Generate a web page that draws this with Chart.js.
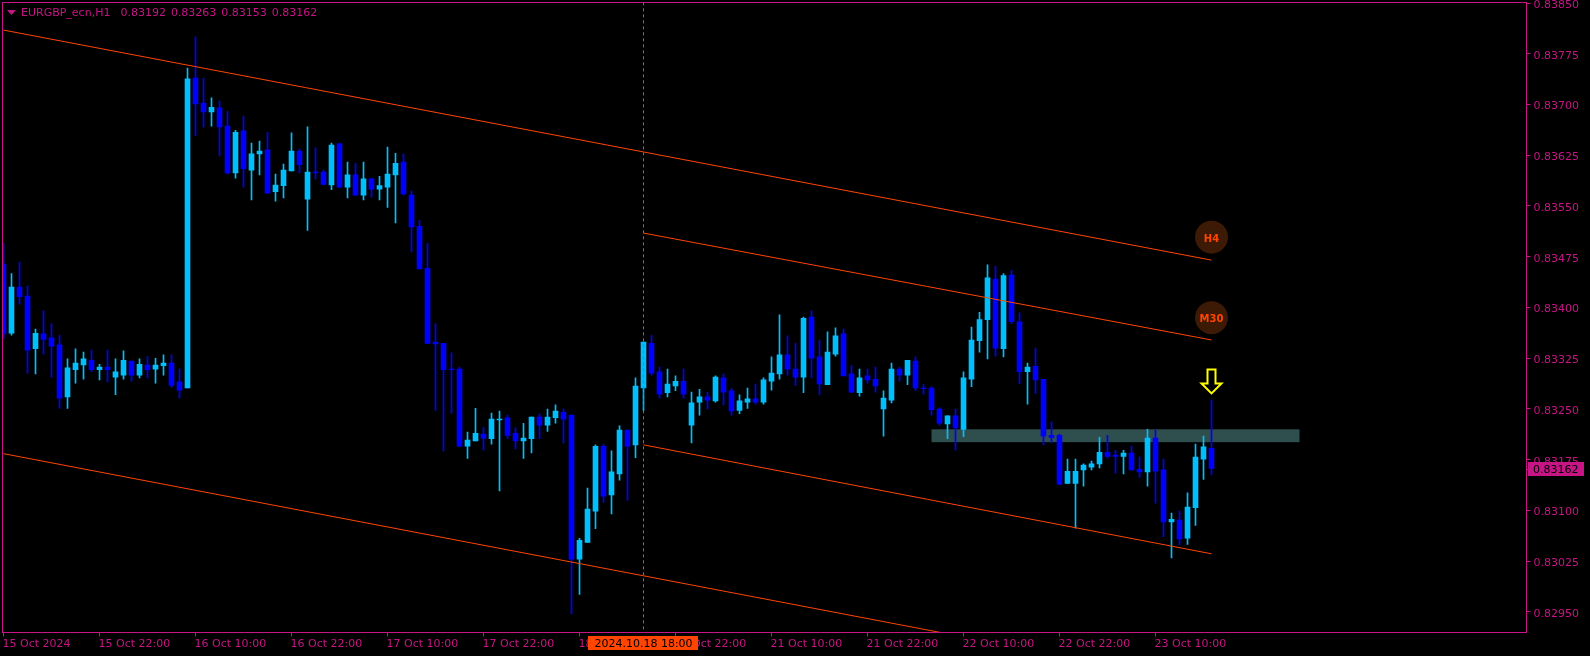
<!DOCTYPE html>
<html>
<head>
<meta charset="utf-8">
<title>EURGBP_ecn,H1</title>
<script src="https://cdn.jsdelivr.net/npm/chart.js@4/dist/chart.umd.min.js"></script>
<style>
html, body { margin: 0; padding: 0; background: #000; overflow: hidden; }
canvas { display: block; }
</style>
</head>
<body>
<canvas id="chart" width="1590" height="656"></canvas>
<script>
// candles, one per hour, price x 100000
var opens = [
83464,83362,83430,83417,83339,83361,83355,83345,83268,83308,83315,83322,
83308,83312,83297,83300,83321,83300,83315,83309,83314,83318,83290,83281,
83739,83702,83689,83695,83668,83599,83661,83603,83627,83633,83571,83580,
83602,83631,83560,83600,83600,83581,83642,83578,83596,83566,83590,83575,
83578,83596,83615,83566,83520,83458,83349,83347,83309,83309,83195,83203,
83213,83206,83234,83237,83214,83203,83206,83238,83226,83237,83245,83241,
83028,83053,83099,83195,83123,83154,83219,83197,83281,83347,83305,83274,
83284,83291,83226,83260,83268,83262,83296,83277,83248,83260,83265,83260,
83291,83302,83330,83309,83297,83386,83327,83286,83331,83361,83302,83274,
83299,83294,83250,83263,83309,83300,83321,83281,83281,83250,83228,83240,
83220,83294,83351,83382,83442,83339,83448,83379,83305,83313,83294,83211,
83211,83140,83140,83160,83164,83169,83186,83182,83180,83185,83161,83157,
83207,83160,83083,83086,83059,83104,83176,83192];
var highs = [
83495,83450,83467,83432,83368,83395,83376,83359,83324,83339,83334,83337,
83316,83337,83324,83336,83321,83324,83328,83325,83330,83330,83309,83754,
83800,83739,83710,83705,83690,83662,83683,83643,83646,83659,83597,83612,
83658,83634,83667,83636,83603,83643,83643,83615,83613,83615,83591,83594,
83637,83628,83627,83572,83529,83495,83376,83347,83333,83312,83216,83251,
83223,83244,83247,83241,83222,83229,83238,83243,83250,83256,83250,83241,
83059,83133,83197,83198,83188,83225,83219,83296,83349,83359,83312,83309,
83299,83309,83275,83279,83275,83299,83302,83281,83271,83281,83287,83296,
83327,83389,83358,83347,83386,83395,83352,83364,83370,83368,83314,83309,
83309,83312,83277,83318,83312,83322,83327,83287,83283,83252,83240,83250,
83305,83371,83393,83463,83461,83450,83455,83392,83318,83340,83294,83231,
83213,83176,83176,83169,83173,83208,83211,83189,83189,83195,83179,83220,
83219,83176,83096,83099,83126,83198,83210,83263];
var lows = [
83354,83359,83405,83303,83302,83331,83297,83251,83251,83288,83294,83305,
83293,83290,83271,83294,83291,83296,83296,83288,83300,83282,83266,83281,
83654,83667,83668,83624,83597,83591,83578,83559,83596,83569,83557,83562,
83602,83599,83514,83590,83581,83574,83577,83562,83566,83559,83563,83559,
83548,83525,83566,83482,83457,83347,83248,83188,83244,83194,83177,83203,
83189,83198,83129,83206,83191,83177,83185,83206,83217,83229,83200,82947,
82976,83053,83073,83112,83095,83145,83115,83178,83248,83300,83266,83268,
83277,83266,83200,83241,83250,83260,83256,83241,83243,83251,83257,83257,
83278,83294,83300,83285,83274,83296,83271,83286,83328,83299,83274,83269,
83288,83275,83210,83259,83291,83286,83277,83272,83241,83226,83206,83189,
83209,83283,83334,83324,83328,83327,83376,83287,83257,83273,83197,83200,
83138,83140,83074,83136,83160,83163,83177,83155,83154,83160,83149,83136,
83111,83061,83030,83049,83050,83078,83146,83153];
var closes = [
83361,83430,83416,83337,83362,83353,83343,83266,83311,83318,83324,83308,
83312,83308,83305,83322,83300,83316,83308,83315,83318,83285,83278,83738,
83701,83689,83696,83667,83599,83659,83605,83627,83631,83569,83581,83603,
83631,83611,83600,83599,83582,83640,83578,83596,83566,83590,83575,83580,
83597,83613,83568,83519,83457,83347,83346,83308,83308,83195,83204,83214,
83207,83235,83235,83211,83203,83207,83238,83226,83238,83247,83235,83028,
83056,83102,83195,83121,83157,83219,83195,83284,83349,83303,83272,83287,
83291,83272,83259,83268,83263,83297,83275,83247,83262,83265,83260,83293,
83303,83330,83309,83297,83384,83325,83287,83334,83358,83299,83275,83296,
83293,83284,83266,83309,83300,83322,83281,83280,83249,83229,83240,83222,
83296,83352,83382,83444,83340,83447,83379,83305,83312,83293,83210,83208,
83139,83158,83158,83167,83169,83186,83180,83180,83185,83160,83157,83207,
83158,83083,83087,83058,83105,83179,83194,83162];

var yTicks = [83850,83775,83700,83625,83550,83475,83400,83325,83250,83175,83100,83025,82950];
var xTicks = [0,12,24,36,48,60,72,84,96,108,120,132,144];
var xLabels = ["15 Oct 2024","15 Oct 22:00","16 Oct 10:00","16 Oct 22:00","17 Oct 10:00","17 Oct 22:00",
  "18 Oct 10:00","18 Oct 22:00","21 Oct 10:00","21 Oct 22:00","22 Oct 10:00","22 Oct 22:00","23 Oct 10:00"];

// channel lines: [bar, price, bar, price]
var channels = [
  [0,83810,151,83470],
  [80,83510,151,83352],
  [80,83197,151,83036],
  [0,83184,117,82920]
];
var crossBar = 80;
var crossLabel = "2024.10.18 18:00";
var zone = [116,162,83220,83201];
var badges = [{x:151,y:83504,t:"H4"},{x:151,y:83385,t:"M30"}];
var arrow = {x:151,y:83310};
var lastPrice = 83162;
var title = "EURGBP_ecn,H1  0.83192 0.83263 0.83153 0.83162";

var PINK = "#C71585", ORANGE = "#FF4500", BULL = "#00BFFF", BEAR = "#0000FF";
var FONT = "11px 'DejaVu Sans'";

function px(v){ return v/100000; }

var candleColors = opens.map(function(o,i){ return closes[i] >= o ? BULL : BEAR; });
var wickData = opens.map(function(o,i){ return {x:i, y:[px(lows[i]),px(highs[i])]}; });
var bodyData = opens.map(function(o,i){
  return {x:i, y:[px(Math.min(o,closes[i])),px(Math.max(o,closes[i]))]};
});

var datasets = [
  {type:'bar', data:wickData, backgroundColor:candleColors, barThickness:1, grouped:false, order:4},
  {type:'bar', data:bodyData, backgroundColor:candleColors, barThickness:5, grouped:false, order:3}
];
channels.forEach(function(c){
  datasets.push({type:'line', data:[{x:c[0],y:px(c[1])},{x:c[2],y:px(c[3])}],
    borderColor:ORANGE, borderWidth:1, pointRadius:0, tension:0, order:2});
});
datasets.push({type:'line', data:[{x:crossBar,y:px(yTicks[0])+0.00001},{x:crossBar,y:0.8292}],
  borderColor:ORANGE, borderWidth:1, borderDash:[3,3], pointRadius:0, order:2});
datasets.push({type:'scatter', data:badges.map(function(b){ return {x:b.x,y:px(b.y)}; }),
  backgroundColor:"#3D1A05", borderWidth:0, pointRadius:16.5, order:1});

var mt4 = {
  id:'mt4',
  beforeDatasetsDraw:function(chart){
    var c = chart.ctx, sx = chart.scales.x, sy = chart.scales.y;
    var x0 = sx.getPixelForValue(zone[0]), x1 = sx.getPixelForValue(zone[1]);
    var y0 = sy.getPixelForValue(px(zone[2])), y1 = sy.getPixelForValue(px(zone[3]));
    c.fillStyle = "#2F4F4F";
    c.fillRect(x0,y0,x1-x0,y1-y0);
  },
  afterDatasetsDraw:function(chart){
    var c = chart.ctx, sx = chart.scales.x, sy = chart.scales.y, a = chart.chartArea;
    c.save();

    // badge text
    c.fillStyle = ORANGE;
    c.font = "bold 10px 'DejaVu Sans'";
    c.textAlign = "center";
    c.textBaseline = "middle";
    badges.forEach(function(b){
      c.fillText(b.t, sx.getPixelForValue(b.x), sy.getPixelForValue(px(b.y))+2);
    });

    // down arrow
    var ax = sx.getPixelForValue(arrow.x), ay = sy.getPixelForValue(px(arrow.y));
    c.strokeStyle = "#FFFF00";
    c.lineWidth = 2;
    c.beginPath();
    c.moveTo(ax-4,ay+1);
    c.lineTo(ax+4,ay+1);
    c.lineTo(ax+4,ay+15);
    c.lineTo(ax+10,ay+15);
    c.lineTo(ax,ay+25);
    c.lineTo(ax-10,ay+15);
    c.lineTo(ax-4,ay+15);
    c.closePath();
    c.stroke();

    // frame
    c.strokeStyle = PINK;
    c.lineWidth = 1;
    c.strokeRect(a.left,a.top,a.right-a.left,a.bottom-a.top);

    // title
    c.fillStyle = PINK;
    c.beginPath();
    c.moveTo(7,10);
    c.lineTo(16,10);
    c.lineTo(11.5,15);
    c.closePath();
    c.fill();
    c.font = FONT;
    c.textAlign = "left";
    c.textBaseline = "middle";
    c.wordSpacing = "1.5px";
    c.fillText(title,21,13);
    c.wordSpacing = "0px";

    // last price tag
    var ly = Math.round(sy.getPixelForValue(px(lastPrice)));
    c.fillStyle = PINK;
    c.fillRect(a.right,ly,3,1);
    c.fillRect(1528,ly-7,56,14);
    c.fillStyle = "#000";
    c.fillText((lastPrice/100000).toFixed(5),1533,ly+1);

    // crosshair time tag
    var cx = sx.getPixelForValue(crossBar);
    c.fillStyle = ORANGE;
    c.fillRect(cx-55.5,636,110,14);
    c.fillStyle = "#000";
    c.textAlign = "center";
    c.fillText(crossLabel,cx,644);
    c.restore();
  }
};

// the scale's own label overhang would push the plot area in
function noOverhang(s){
  s.paddingLeft = 0; s.paddingRight = 0; s.paddingTop = 0; s.paddingBottom = 0;
}

new Chart(document.getElementById("chart"), {
  type:'bar',
  data:{datasets:datasets},
  plugins:[mt4],
  options:{
    responsive:false,
    animation:false,
    devicePixelRatio:1,
    events:[],
    layout:{autoPadding:false,padding:{left:2.5,top:2.5,right:0,bottom:0}},
    plugins:{legend:{display:false},tooltip:{enabled:false},title:{display:false}},
    scales:{
      x:{
        type:'linear',
        offset:false,
        min:-0.125,
        max:190.375,
        afterFit:function(s){ s.height = 23.5; noOverhang(s); },
        afterBuildTicks:function(s){ s.ticks = xTicks.map(function(v){ return {value:v}; }); },
        border:{display:false},
        grid:{offset:false,drawOnChartArea:false,drawTicks:true,tickLength:4,color:PINK,tickColor:PINK},
        ticks:{
          autoSkip:false,maxRotation:0,minRotation:0,align:'start',padding:1,labelOffset:-1,color:PINK,
          font:{family:"'DejaVu Sans'",size:11},
          callback:function(v,i){ return xLabels[i]; }
        }
      },
      y:{
        type:'linear',
        position:'right',
        min:0.8291970,
        max:0.8385074,
        afterFit:function(s){ s.width = 63.5; noOverhang(s); },
        afterBuildTicks:function(s){ s.ticks = yTicks.map(function(v){ return {value:px(v)}; }); },
        border:{display:false},
        grid:{drawOnChartArea:false,drawTicks:true,tickLength:4,color:PINK,tickColor:PINK},
        ticks:{
          autoSkip:false,padding:3,labelOffset:2,color:PINK,
          font:{family:"'DejaVu Sans'",size:11},
          callback:function(v){ return v.toFixed(5); }
        }
      }
    }
  }
});
</script>
</body>
</html>
